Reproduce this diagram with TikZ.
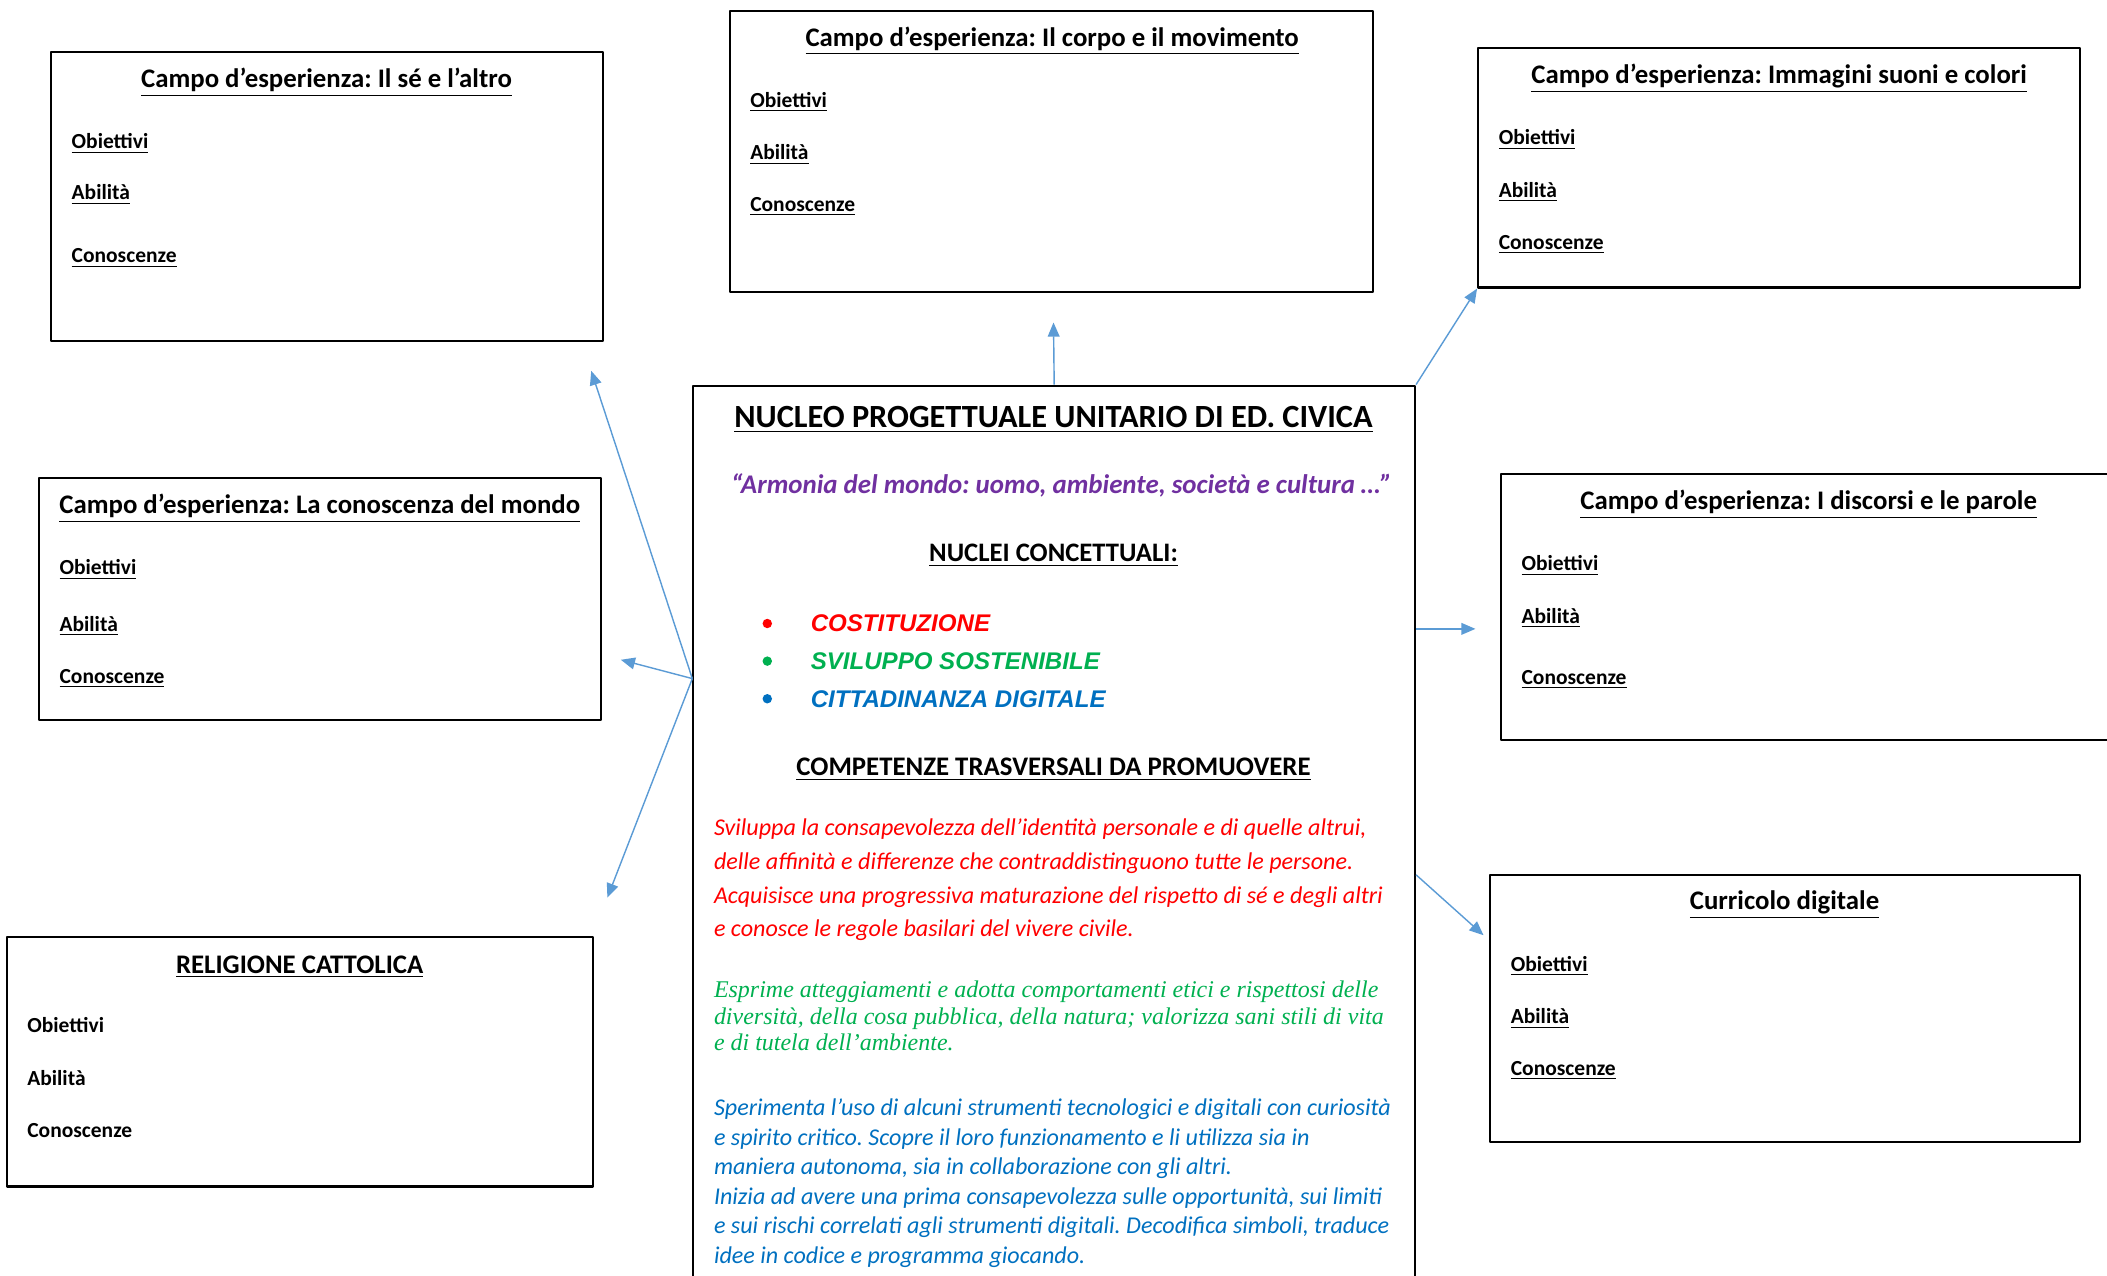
\documentclass[tikz,border=0pt]{standalone}
\usepackage{fontspec}
\setmainfont{Carlito}
\newfontfamily\arialfont{Liberation Sans}
\newfontfamily\timesfont{Liberation Serif}
\usetikzlibrary{arrows.meta,positioning}
\definecolor{rosso}{HTML}{FF0000}
\definecolor{verde}{HTML}{00B050}
\definecolor{blu}{HTML}{0070C0}
\definecolor{viola}{HTML}{7030A0}
\definecolor{azzurro}{HTML}{5B9BD5}
\frenchspacing
\tikzset{
  campo/.style={draw,line width=0.9pt,inner sep=0pt},
  titolo/.style={inner sep=0pt,yshift=-1.4pt,font=\fontsize{11.35}{13}\selectfont\bfseries},
  voce/.style={anchor=west,inner sep=0pt,yshift=-1.1pt,font=\fontsize{9.1}{10}\selectfont\bfseries},
  freccia/.style={draw=azzurro,line width=0.6pt,-{Triangle[length=6pt,width=5pt]}}
}
\begin{document}
\begin{tikzpicture}[line join=round]
\clip (0,0) rectangle (31.36,18.98);
% riquadri dei campi
\node[campo,minimum width=8.22cm,minimum height=4.3cm] (se) at (4.87,16.05) {};
\node[campo,minimum width=9.58cm,minimum height=4.18cm] (corpo) at (15.65,16.73) {};
\node[campo,minimum width=8.96cm,minimum height=3.56cm] (immagini) at (26.48,16.48) {};
\node[campo,minimum width=8.36cm,minimum height=3.6cm] (mondo) at (4.76,10.06) {};
\node[campo,minimum width=9.46cm,minimum height=3.96cm] (discorsi) at (27.07,9.94) {};
\node[campo,minimum width=8.72cm,minimum height=3.72cm] (religione) at (4.46,3.18) {};
\node[campo,minimum width=8.78cm,minimum height=3.98cm] (digitale) at (26.57,3.97) {};
\node[campo,minimum width=10.74cm,minimum height=13.74cm] (nucleo) at (15.69,6.37) {};
% titoli
\node[titolo] (tse) at (4.86,17.8) {\underline{Campo d’esperienza: Il sé e l’altro}};
\node[titolo] (tcorpo) at (15.66,18.42) {\underline{Campo d’esperienza: Il corpo e il movimento}};
\node[titolo] (timmagini) at (26.48,17.86) {\underline{Campo d’esperienza: Immagini suoni e colori}};
\node[titolo] (tmondo) at (4.76,11.46) {\underline{Campo d’esperienza: La conoscenza del mondo}};
\node[titolo] (tdiscorsi) at (26.92,11.52) {\underline{Campo d’esperienza: I discorsi e le parole}};
\node[titolo] (treligione) at (4.46,4.64) {\underline{RELIGIONE CATTOLICA}};
\node[titolo] (tdigitale) at (26.56,5.56) {\underline{Curricolo digitale}};
% voci
\foreach \x/\a/\b/\c in {1.06/16.88/16.12/15.18, 11.16/17.5/16.72/15.94, 22.3/16.94/16.16/15.38,
  0.88/10.54/9.7/8.92, 22.64/10.6/9.82/8.9, 22.48/4.64/3.86/3.08}
{
\node[voce] at (\x,\a) {\underline{Obiettivi}};
\node[voce] at (\x,\b) {\underline{Abilità}};
\node[voce] at (\x,\c) {\underline{Conoscenze}};
}
\node[voce,yshift=1.1pt] (rob) at (0.4,3.72) {Obiettivi};
\node[voce,yshift=1.1pt] (rab) at (0.4,2.94) {Abilità};
\node[voce,yshift=1.1pt] (rco) at (0.4,2.16) {Conoscenze};
% nucleo centrale
\node[titolo,font=\fontsize{13.7}{15}\selectfont\bfseries] (titnucleo) at (15.68,12.78)
  {\underline{NUCLEO PROGETTUALE UNITARIO DI ED. CIVICA}};
\node[inner sep=0pt,text=viola,font=\fontsize{11.4}{13}\selectfont\bfseries\itshape] (motto) at (15.8,11.76)
  {“Armonia del mondo: uomo, ambiente, società e cultura …”};
\node[titolo,font=\fontsize{11.3}{13}\selectfont\bfseries] (nuclei) at (15.68,10.76) {\underline{NUCLEI CONCETTUALI:}};
\foreach \y/\col in {9.7/rosso,9.14/verde,8.58/blu}
{
\fill[\col] (11.42,\y) circle (2pt);
}
\node[voce,yshift=1.1pt,text=rosso,font=\fontsize{10.2}{12}\selectfont\arialfont\bfseries\itshape] (cost) at (12.06,9.7) {COSTITUZIONE};
\node[voce,yshift=1.1pt,text=verde,font=\fontsize{10.2}{12}\selectfont\arialfont\bfseries\itshape] (svil) at (12.06,9.14) {SVILUPPO SOSTENIBILE};
\node[voce,yshift=1.1pt,text=blu,font=\fontsize{10.2}{12}\selectfont\arialfont\bfseries\itshape] (citt) at (12.06,8.58) {CITTADINANZA DIGITALE};
\node[titolo,font=\fontsize{11.35}{13}\selectfont\bfseries] (compet) at (15.68,7.58) {\underline{COMPETENZE TRASVERSALI DA PROMUOVERE}};
\node[anchor=north west,inner sep=0pt,align=left,text=rosso,font=\fontsize{10.2}{14.3}\selectfont\itshape] (prosso) at (10.62,6.8)
  {Sviluppa la consapevolezza dell’identità personale e di quelle altrui,\\
   delle affinità e differenze che contraddistinguono tutte le persone.\\
   Acquisisce una progressiva maturazione del rispetto di sé e degli altri\\
   e conosce le regole basilari del vivere civile.};
\node[anchor=north west,inner sep=0pt,align=left,text=verde,font=\fontsize{10.15}{11.3}\selectfont\timesfont\itshape] (pverde) at (10.62,4.39)
  {Esprime atteggiamenti e adotta comportamenti etici e rispettosi delle\\
   diversità, della cosa pubblica, della natura; valorizza sani stili di vita\\
   e di tutela dell’ambiente.};
\node[anchor=north west,inner sep=0pt,align=left,text=blu,font=\fontsize{10.2}{12.5}\selectfont\itshape] (pblu) at (10.62,2.63)
  {Sperimenta l’uso di alcuni strumenti tecnologici e digitali con curiosità\\
   e spirito critico. Scopre il loro funzionamento e li utilizza sia in\\
   maniera autonoma, sia in collaborazione con gli altri.\\
   Inizia ad avere una prima consapevolezza sulle opportunità, sui limiti\\
   e sui rischi correlati agli strumenti digitali. Decodifica simboli, traduce\\
   idee in codice e programma giocando.};
% frecce
\coordinate (sx) at (nucleo.west |- 0,8.88);
\coordinate (fse) at (8.8,13.46);
\coordinate (fmondo) at (9.24,9.16);
\coordinate (freligione) at (9.04,5.62);
\coordinate (fcorpo) at (15.68,14.18);
\coordinate (dx1) at (nucleo.east |- 0,9.62);
\coordinate (fdiscorsi) at (21.96,9.62);
\coordinate (dx2) at (nucleo.east |- 0,5.96);
\coordinate (fdigitale) at (22.08,5.06);
\draw[freccia] (sx)--(fse);
\draw[freccia] (sx)--(fmondo);
\draw[freccia] (sx)--(freligione);
\draw[freccia] (nucleo.north)--(fcorpo);
\draw[freccia] (nucleo.north east)--(immagini.south west);
\draw[freccia] (dx1)--(fdiscorsi);
\draw[freccia] (dx2)--(fdigitale);
\end{tikzpicture}
\end{document}
